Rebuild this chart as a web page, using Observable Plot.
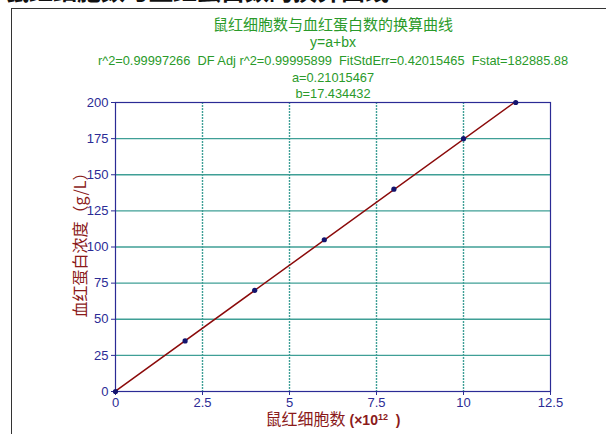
<!DOCTYPE html>
<html><head><meta charset="utf-8">
<script src="https://cdn.jsdelivr.net/npm/d3@7"></script>
<script src="https://cdn.jsdelivr.net/npm/@observablehq/plot@0.6"></script>
<style>
html,body{margin:0;padding:0;background:#fff;width:606px;height:434px;overflow:hidden;position:relative;font-family:"Liberation Sans",Arial,"Noto Sans CJK SC",sans-serif;}
#frame{position:absolute;left:11px;top:8px;width:700px;height:500px;border:1px solid #333;box-sizing:border-box;}
#heading{position:absolute;left:5px;top:-28px;font-size:24px;font-weight:bold;color:#111;white-space:nowrap;font-family:"Noto Sans CJK SC",sans-serif;}
.t{position:absolute;left:0;width:666px;text-align:center;color:#2a9a2a;white-space:nowrap;}
#plot{position:absolute;left:0;top:0;}
#ylab{position:absolute;left:79px;top:241px;transform:translate(-50%,-50%) rotate(-90deg);color:#8b1a1a;font-size:16px;white-space:nowrap;font-family:"Noto Sans CJK SC",sans-serif;}
#xlab{position:absolute;left:333px;top:419px;transform:translate(-50%,-50%);color:#8b1a1a;font-size:16px;white-space:nowrap;font-family:"Noto Sans CJK SC",sans-serif;line-height:16px;}
#xlab .u{font-family:"Liberation Sans",Arial,sans-serif;font-size:14px;font-weight:bold;}
#xlab sup{font-size:9px;font-weight:bold;vertical-align:5px;line-height:0;}
</style></head>
<body>
<div id="heading">鼠红细胞数与血红蛋白数的换算曲线</div>
<div id="frame"></div>
<div id="plot"></div>
<div class="t" style="top:13px;font-size:15px;font-family:'Noto Sans CJK SC',sans-serif;">鼠红细胞数与血红蛋白数的换算曲线</div>
<div class="t" style="top:34px;font-size:14px;">y=a+bx</div>
<div class="t" style="top:53px;font-size:12.8px;">r^2=0.99997266&nbsp; DF Adj r^2=0.99995899&nbsp; FitStdErr=0.42015465&nbsp; Fstat=182885.88</div>
<div class="t" style="top:70px;font-size:12.8px;">a=0.21015467</div>
<div class="t" style="top:86px;font-size:12.8px;">b=17.434432</div>
<div id="ylab">血红蛋白浓度（g/L）</div>
<div id="xlab">鼠红细胞数<span class="u"> (×10<sup>12</sup>&nbsp; )</span></div>
<script>
const cellCounts = [0, 2, 4, 6, 8, 10, 11.5];
const hbValues = [0, 35, 70, 105, 140, 175, 200];
const fitLineX = [0, 11.5];
const fitLineY = [0.21, 200.70];
const xTicks = [0, 2.5, 5, 7.5, 10, 12.5];
const yTicks = [0, 25, 50, 75, 100, 125, 150, 175, 200];

const points = cellCounts.map((x, i) => ({x, y: hbValues[i]}));
const fit = fitLineX.map((x, i) => ({x, y: fitLineY[i]}));

const tickColor = "#2b2b95";
const gridColor = "#3f9f96";

const chart = Plot.plot({
  width: 606,
  height: 434,
  marginLeft: 115,
  marginRight: 56,
  marginTop: 102,
  marginBottom: 43,
  style: {fontFamily: "'Liberation Sans', Arial, sans-serif", fontSize: "13px", background: "transparent"},
  x: {domain: [0, 12.5]},
  y: {domain: [0, 200]},
  marks: [
    Plot.ruleY(yTicks.filter(d => d > 0 && d < 200), {stroke: gridColor, strokeWidth: 1.4}),
    Plot.ruleX(xTicks.filter(d => d > 0 && d < 12.5), {stroke: gridColor, strokeWidth: 1.4, strokeDasharray: "2,1"}),
    Plot.frame({stroke: "#2b2b95", strokeWidth: 1.2}),
    Plot.axisX({ticks: xTicks, tickSize: 4, tickPadding: 2, color: tickColor, fontSize: 13, label: null, tickFormat: d => String(d)}),
    Plot.axisY({ticks: yTicks, tickSize: 4, tickPadding: 3, color: tickColor, fontSize: 13, label: null}),
    Plot.line(fit, {x: "x", y: "y", stroke: "#8b0a0a", strokeWidth: 1.5}),
    Plot.dot(points, {x: "x", y: "y", r: 2.6, fill: "#14146e", stroke: "none"})
  ]
});
document.getElementById("plot").appendChild(chart);
</script>
</body></html>
